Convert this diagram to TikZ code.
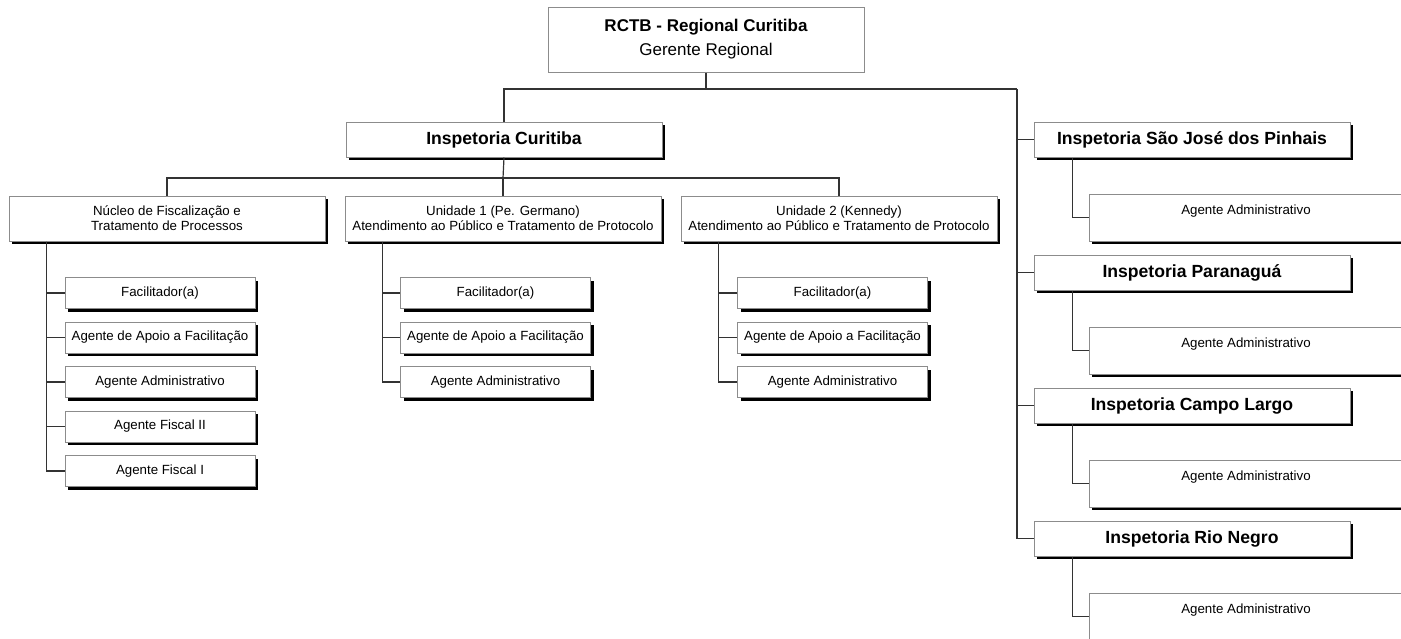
\documentclass[tikz,border=0pt]{standalone}
\usepackage{fontspec}
\setmainfont{Liberation Sans}
\usetikzlibrary{shadows}

\tikzset{
    cargo/.style={draw=black!45, fill=white, line width=1pt, inner sep=0pt, align=center,
        font=\fontsize{13.3}{15}\selectfont, minimum width=190pt, minimum height=31pt,
        drop shadow={shadow xshift=3pt, shadow yshift=-3pt, fill=black, opacity=1}},
    setor/.style={cargo, minimum width=316pt, minimum height=45pt},
    inspetoria/.style={cargo, minimum width=316pt, minimum height=35pt,
        font=\fontsize{17.6}{19}\selectfont\bfseries},
    agente/.style={cargo, minimum width=314pt, minimum height=47pt},
    liga/.style={draw=black!80, line width=1.2pt},
}

\begin{document}
\begin{tikzpicture}[x=1pt, y=-1pt]
\useasboundingbox (0,0) rectangle (1401,638);
\clip (0,0) rectangle (1401,638);
% nodes

\node[draw=black!45, fill=white, line width=1pt, align=center, minimum width=316pt, minimum height=65pt,
    font=\fontsize{17}{24}\selectfont] (rctb) at (706,39.5) {{\bfseries RCTB - Regional Curitiba}\\Gerente Regional};
\coordinate (rbus) at (1017,89);
\draw[liga] (rctb.south) -- (rctb.south |- rbus);

\node[inspetoria] (ictb) at (504,139.5) {Inspetoria Curitiba};
\draw[liga] (ictb.north) |- (rbus);

\node[setor] (nucleo) at (167,218.5) {Núcleo de Fiscalização e\\Tratamento de Processos};
\node[setor] (unid1) at (503,218.5) {Unidade 1 (Pe. Germano)\\Atendimento ao Público e Tratamento de Protocolo};
\node[setor] (unid2) at (839,218.5) {Unidade 2 (Kennedy)\\Atendimento ao Público e Tratamento de Protocolo};

\coordinate (mbus) at (503,178);
\draw[liga] (ictb.south) -- (mbus);
\draw[liga] (nucleo.north) |- (mbus) -| (unid2.north);
\draw[liga] (unid1.north) -- (unid1.north |- mbus);

\foreach \txt [count=\i from 0] in {Facilitador(a), Agente de Apoio a Facilitação, Agente Administrativo, Agente Fiscal II, Agente Fiscal I}
{
    \node[cargo] (nucleo-\i) at (160,293+44.5*\i) {\txt};
    \draw[liga] ([xshift=38pt]nucleo.south west) |- (nucleo-\i.west);
}

\foreach \u/\x in {unid1/495.5, unid2/832.5}
{
    \foreach \txt [count=\i from 0] in {Facilitador(a), Agente de Apoio a Facilitação, Agente Administrativo}
    {
        \node[cargo] (\u-\i) at (\x,293+44.5*\i) {\txt};
        \draw[liga] ([xshift=38pt]\u.south west) |- (\u-\i.west);
    }
}

% inspetorias do lado direito
\foreach \nome/\txt [count=\i from 0] in {sjp/Inspetoria São José dos Pinhais, pgua/Inspetoria Paranaguá, clargo/Inspetoria Campo Largo, rneg/Inspetoria Rio Negro}
{
    \node[inspetoria] (\nome) at (1192,139.5+133*\i) {\txt};
    \node[agente] (\nome-a) at (1246,217.5+133*\i) {Agente Administrativo\\\mbox{}};
    \draw[liga] (rbus) |- (\nome.west);
    \draw[liga] ([xshift=39pt]\nome.south west) |- (\nome-a.west);
}

\end{tikzpicture}
\end{document}
